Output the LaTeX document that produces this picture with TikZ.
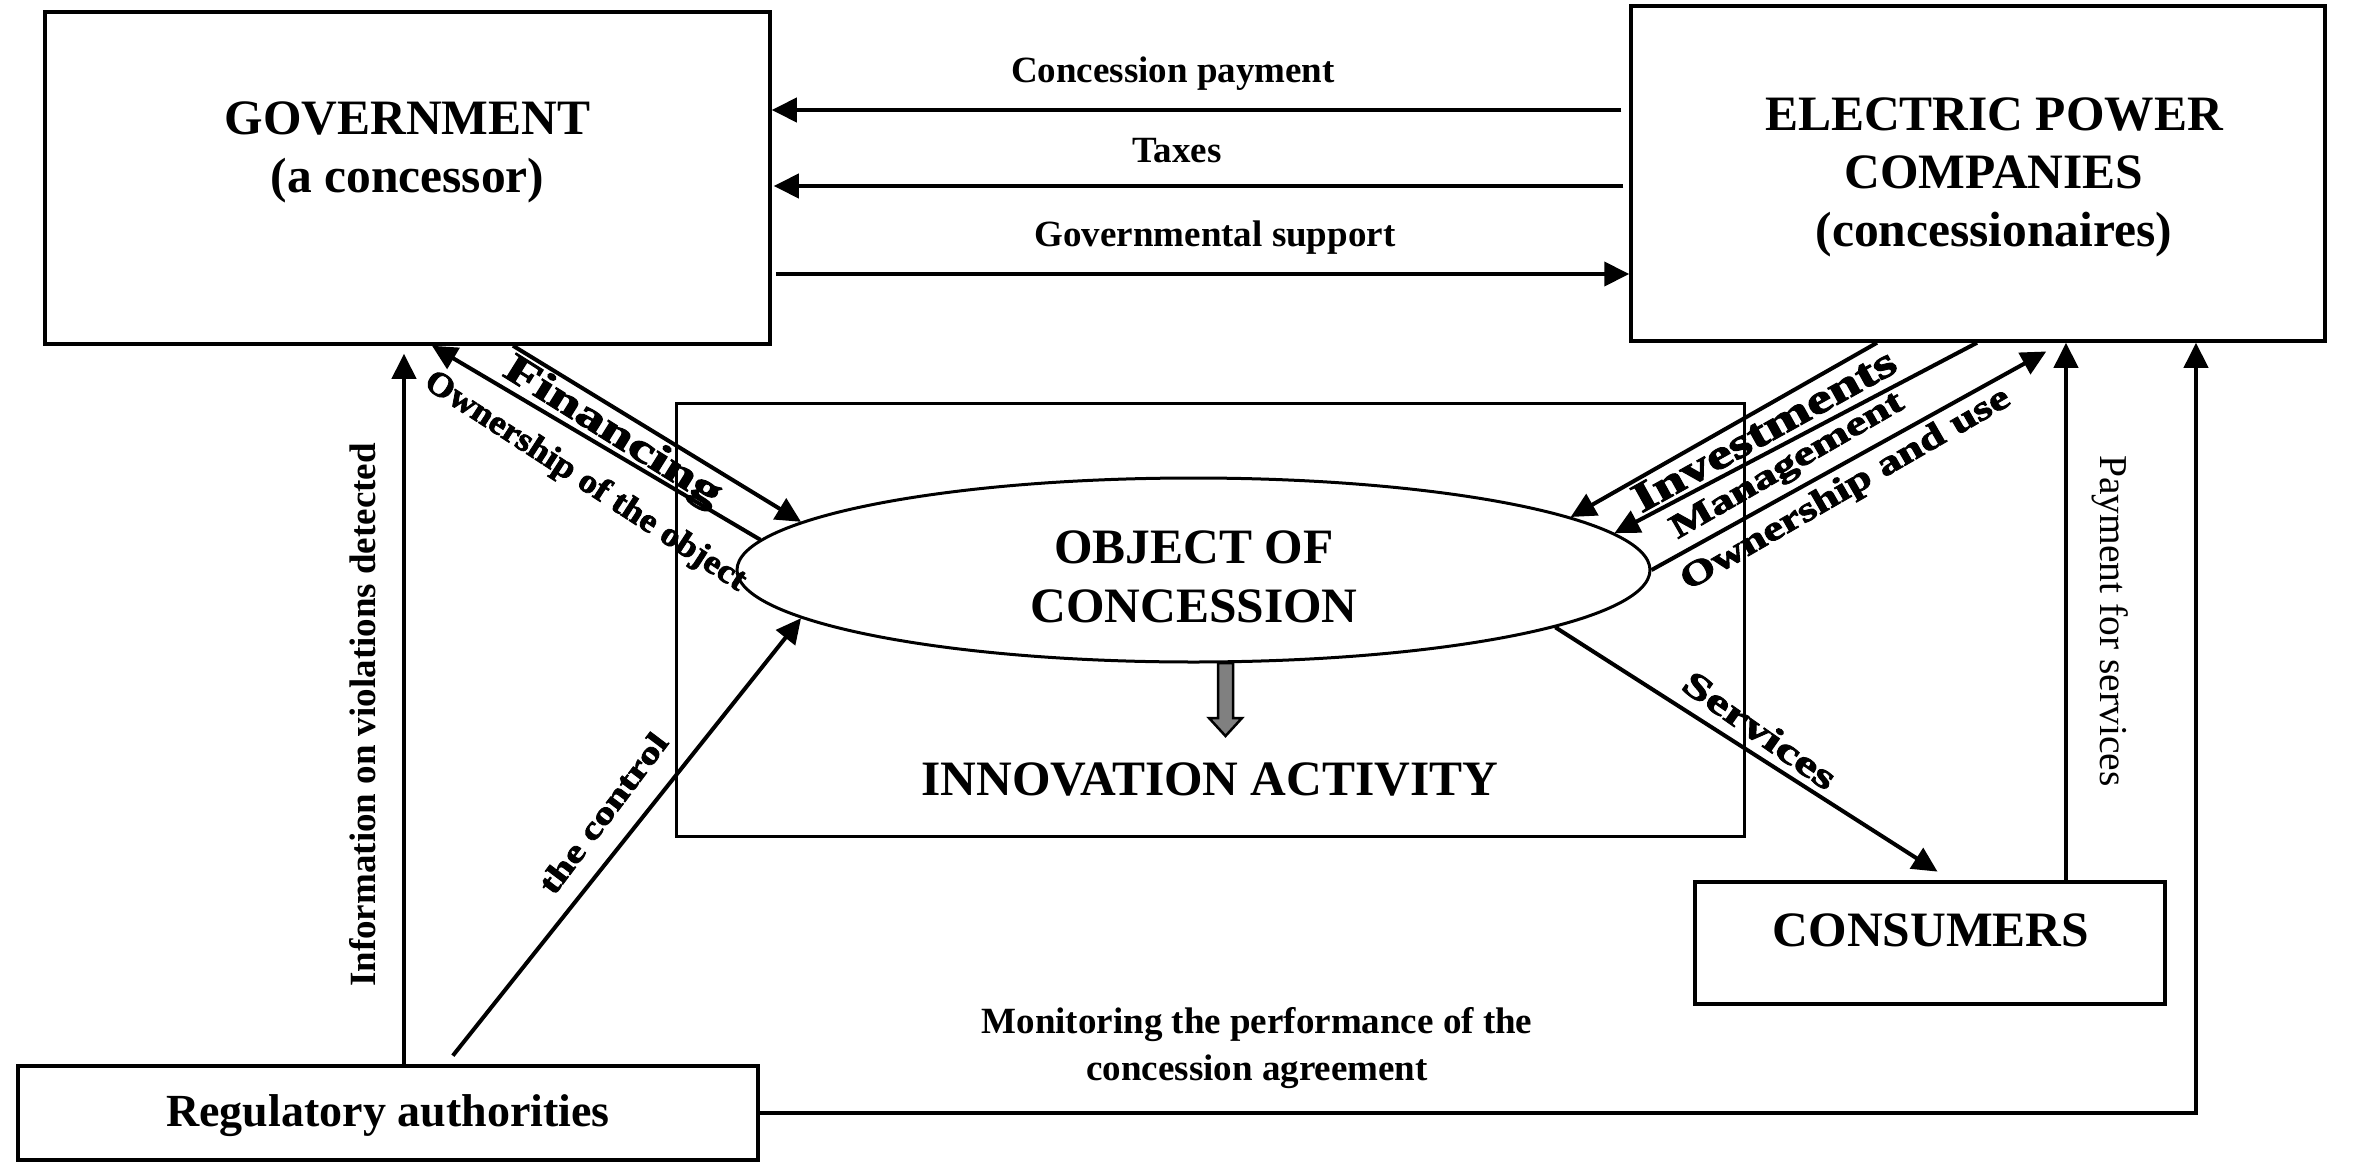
\documentclass[tikz,border=0pt]{standalone}
\usepackage{fontspec}
\usepackage{graphicx}
\setmainfont{Liberation Serif}
\newfontfamily\heavyfont[FakeBold=2.2]{Liberation Serif}
\usetikzlibrary{arrows.meta,shapes.geometric,calc}
\definecolor{arrgray}{RGB}{128,128,128}
\newcommand{\wl}[3]{\scalebox{#1}[1]{\fontsize{#2}{#2}\heavyfont\bfseries #3}}
\tikzset{
  box/.style={draw, line width=3.5pt, rectangle, inner sep=0pt},
  arr/.style={line width=4pt, -{Triangle[length=25pt,width=24pt]}},
  big/.style={font=\fontsize{49.5}{59}\selectfont\bfseries, inner sep=0pt, anchor=base},
  mid/.style={font=\fontsize{37}{45}\selectfont\bfseries, inner sep=0pt, anchor=base},
  regf/.style={font=\fontsize{46}{55}\selectfont\bfseries, inner sep=0pt, anchor=base},
  vlab/.style={inner sep=0pt},
  dlab/.style={inner sep=0pt},
}
\begin{document}
\begin{tikzpicture}[x=1pt,y=-1pt]
\fill[white] (0,0) rectangle (2378,1175);
\useasboundingbox (0,0) rectangle (2378,1175);

% boxes
\node[box, minimum width=725pt, minimum height=332pt] (gov) at (407.5,178) {};
\node[box, minimum width=694pt, minimum height=335pt] (epc) at (1978,173.5) {};
\node[box, line width=3pt, minimum width=1068pt, minimum height=433pt] (inner) at (1210,619.5) {};
\node[draw, ellipse, line width=3pt, fill=white, inner sep=0pt, minimum width=913pt, minimum height=184pt] (obj) at (1193.5,570) {};
\node[box, minimum width=470pt, minimum height=122pt] (cons) at (1930,943) {};
\node[box, minimum width=740pt, minimum height=94pt] (reg) at (388,1113) {};

% box texts
\node[big] (govt1) at (407.5,134) {GOVERNMENT};
\node[big] (govt2) at (407.5,192) {(a concessor)};
\node[big] (epct1) at (1994,130) {ELECTRIC POWER};
\node[big] (epct2) at (1994,188) {COMPANIES};
\node[big] (epct3) at (1994,246) {(concessionaires)};
\node[big] (objt1) at (1194,563) {OBJECT OF};
\node[big] (objt2) at (1194,622) {CONCESSION};
\node[big] (innov) at (1210,795) {INNOVATION ACTIVITY};
\node[big] (const) at (1931,946) {CONSUMERS};
\node[regf] (regt) at (388,1126) {Regulatory authorities};

% horizontal arrows between government and companies
\draw[arr, shorten <=8pt] (epc.west |- 0,110) -- (gov.east |- 0,110);
\draw[arr, shorten <=6pt, shorten >=2pt] (epc.west |- 0,186) -- (gov.east |- 0,186);
\draw[arr, shorten <=4pt] (gov.east |- 0,274) -- (epc.west |- 0,274);
\node[mid] (lcp) at (1173,82) {Concession payment};
\node[mid] (ltax) at (1177,162) {Taxes};
\node[mid] (lgs) at (1215,246) {Governmental support};

% government <-> object
\draw[arr] (513,0 |- gov.south) -- (obj.173.1);
\draw[arr] (obj.176.4) -- (432,0 |- gov.south);
\node[dlab, rotate=-32] (lfin) at (612,433) {\wl{1.42}{41}{Financing}};
\node[dlab, rotate=-33] (lown) at (585,482) {\wl{1.08}{34}{Ownership of the object}};

% regulatory authorities
\draw[arr, shorten >=8pt] (404,0 |- reg.north) -- (404,0 |- gov.south);
\node[vlab, rotate=90, font=\fontsize{37}{45}\selectfont\bfseries] (linfo) at (363,715) {Information on violations detected};
\draw[arr, shorten <=11pt] (446,0 |- reg.north) -- (obj.187.3);
\node[dlab, rotate=53] (lctrl) at (603,813) {\wl{1.3}{32}{the control}};

% companies <-> object
\draw[arr] (1877,0 |- epc.south) -- (obj.8.94);
\draw[arr] (1977,0 |- epc.south) -- (obj.5.08);
\draw[arr, shorten >=18pt] (obj.0.4) -- (2062,0 |- epc.south);
\node[dlab, rotate=29] (linv) at (1764,430) {\wl{1.36}{42}{Investments}};
\node[dlab, rotate=30] (lman) at (1788,467) {\wl{1.38}{34}{Management}};
\node[dlab, rotate=30] (lownuse) at (1846,490) {\wl{1.30}{35}{Ownership and use}};

% services and payment
\draw[arr, shorten >=16pt] (obj.351.9) -- (1951,0 |- cons.north);
\node[dlab, rotate=-35] (lserv) at (1760,730) {\wl{1.42}{36}{Services}};
\draw[arr] (2066,0 |- cons.north) -- (2066,0 |- epc.south);
\node[vlab, rotate=-90, font=\fontsize{39.5}{45}\selectfont] (lpay) at (2110,621) {Payment for services};

% monitoring
\draw[arr] (reg.east) -| (2196,0 |- epc.south);
\node[mid] (lmon1) at (1257,1033) {Monitoring the performance of the};
\node[mid] (lmon2) at (1257,1080) {concession agreement};

% gray block arrow
\draw[line width=2.5pt, fill=arrgray, line join=miter]
  (1218,663) -- (1233,663) -- (1233,718) -- (1242,718) -- (1225.5,736)
  -- (1209,718) -- (1218,718) -- cycle;
\end{tikzpicture}
\end{document}
